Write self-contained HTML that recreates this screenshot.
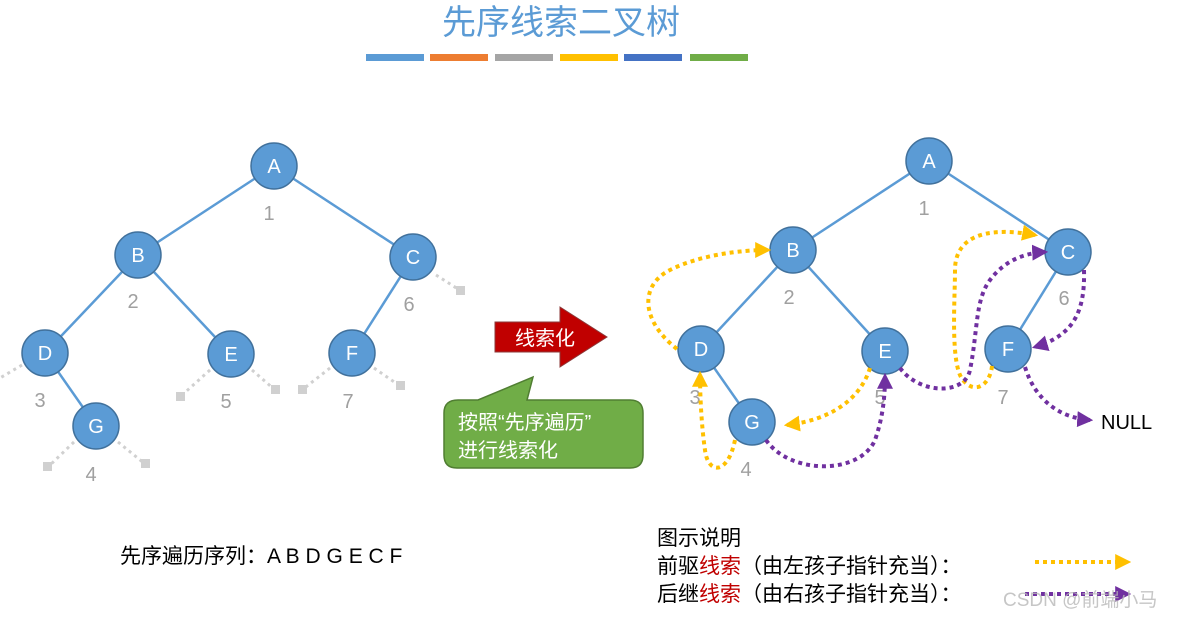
<!DOCTYPE html>
<html><head><meta charset="utf-8"><style>
html,body{margin:0;padding:0;background:#fff;}
svg{display:block;}
text{font-family:"Liberation Sans","Noto Sans CJK SC",sans-serif;}
</style></head><body>
<svg width="1179" height="617" viewBox="0 0 1179 617" xmlns="http://www.w3.org/2000/svg">
<defs>
<marker id="ay" viewBox="0 0 10 10" refX="8" refY="5" markerWidth="4" markerHeight="4" orient="auto"><path d="M0,0L10,5L0,10z" fill="#ffc000"/></marker>
<marker id="ap" viewBox="0 0 10 10" refX="8" refY="5" markerWidth="4" markerHeight="4" orient="auto"><path d="M0,0L10,5L0,10z" fill="#7030a0"/></marker>
</defs>
<text x="561" y="34" font-size="34" fill="#5b9bd5" text-anchor="middle">先序线索二叉树</text>
<rect x="366" y="54" width="58" height="7" fill="#5b9bd5"/>
<rect x="430" y="54" width="58" height="7" fill="#ed7d31"/>
<rect x="495" y="54" width="58" height="7" fill="#a5a5a5"/>
<rect x="560" y="54" width="58" height="7" fill="#ffc000"/>
<rect x="624" y="54" width="58" height="7" fill="#4472c4"/>
<rect x="690" y="54" width="58" height="7" fill="#70ad47"/>

<!-- left tree -->
<g stroke="#d0d0d0" stroke-width="3" stroke-dasharray="3,4" fill="none">
<line x1="436" y1="275" x2="461" y2="291"/>
<line x1="22" y1="365" x2="0" y2="378"/>
<line x1="210" y1="370" x2="181" y2="396"/>
<line x1="252" y1="370" x2="275" y2="390"/>
<line x1="330" y1="368" x2="302" y2="390"/>
<line x1="374" y1="368" x2="400" y2="386"/>
<line x1="74" y1="442" x2="48" y2="467"/>
<line x1="118" y1="442" x2="145" y2="464"/>
</g>
<g fill="#d0d0d0"><rect x="456" y="286" width="9" height="9"/><rect x="176" y="392" width="9" height="9"/><rect x="271" y="385" width="9" height="9"/><rect x="298" y="385" width="9" height="9"/><rect x="396" y="381" width="9" height="9"/><rect x="43" y="462" width="9" height="9"/><rect x="141" y="459" width="9" height="9"/></g>
<g stroke="#5b9bd5" stroke-width="2.5">
<line x1="274" y1="166" x2="138" y2="255"/><line x1="274" y1="166" x2="413" y2="257"/>
<line x1="138" y1="255" x2="45" y2="353"/><line x1="138" y1="255" x2="231" y2="354"/>
<line x1="413" y1="257" x2="352" y2="353"/><line x1="45" y1="353" x2="96" y2="426"/>
</g>
<g fill="#5b9bd5" stroke="#41719c" stroke-width="1.5">
<circle cx="274" cy="166" r="23"/><circle cx="138" cy="255" r="23"/><circle cx="413" cy="257" r="23"/>
<circle cx="45" cy="353" r="23"/><circle cx="231" cy="354" r="23"/><circle cx="352" cy="353" r="23"/><circle cx="96" cy="426" r="23"/>
</g>
<g fill="#fff" font-size="20" text-anchor="middle">
<text x="274" y="173">A</text><text x="138" y="262">B</text><text x="413" y="264">C</text>
<text x="45" y="360">D</text><text x="231" y="361">E</text><text x="352" y="360">F</text><text x="96" y="433">G</text>
</g>
<g fill="#a0a0a0" font-size="20" text-anchor="middle">
<text x="269" y="220">1</text><text x="133" y="308">2</text><text x="409" y="311">6</text>
<text x="40" y="407">3</text><text x="226" y="408">5</text><text x="348" y="408">7</text><text x="91" y="481">4</text>
</g>

<!-- red arrow -->
<path d="M495,322 L560,322 L560,307 L607,337 L560,367 L560,352 L495,352 Z" fill="#c00000" stroke="#8b3a3a" stroke-width="1"/>
<text x="545" y="345" fill="#fff" font-size="20" text-anchor="middle">线索化</text>
<!-- callout -->
<path d="M458,400 L478,400 L533,377 L527,400 L630,400 Q643,400 643,413 L643,455 Q643,468 630,468 L457,468 Q444,468 444,455 L444,413 Q444,400 458,400 Z" fill="#70ad47" stroke="#507e32" stroke-width="1.5"/>
<text x="458" y="429" fill="#fff" font-size="20">按照“先序遍历”</text>
<text x="458" y="457" fill="#fff" font-size="20">进行线索化</text>

<!-- right tree -->
<g stroke="#5b9bd5" stroke-width="2.5">
<line x1="929" y1="161" x2="793" y2="250"/><line x1="929" y1="161" x2="1068" y2="252"/>
<line x1="793" y1="250" x2="701" y2="349"/><line x1="793" y1="250" x2="885" y2="351"/>
<line x1="1068" y1="252" x2="1008" y2="349"/><line x1="701" y1="349" x2="752" y2="422"/>
</g>
<g fill="#5b9bd5" stroke="#41719c" stroke-width="1.5">
<circle cx="929" cy="161" r="23"/><circle cx="793" cy="250" r="23"/><circle cx="1068" cy="252" r="23"/>
<circle cx="701" cy="349" r="23"/><circle cx="885" cy="351" r="23"/><circle cx="1008" cy="349" r="23"/><circle cx="752" cy="422" r="23"/>
</g>
<g fill="#fff" font-size="20" text-anchor="middle">
<text x="929" y="168">A</text><text x="793" y="257">B</text><text x="1068" y="259">C</text>
<text x="701" y="356">D</text><text x="885" y="358">E</text><text x="1008" y="356">F</text><text x="752" y="429">G</text>
</g>
<g fill="#a0a0a0" font-size="20" text-anchor="middle">
<text x="924" y="215">1</text><text x="789" y="304">2</text><text x="1064" y="305">6</text>
<text x="695" y="404">3</text><text x="880" y="404">5</text><text x="1003" y="404">7</text><text x="746" y="476">4</text>
</g>
<text x="1101" y="429" font-size="20" fill="#000">NULL</text>

<g fill="none" stroke-width="4" stroke-dasharray="4,4">
<path d="M677,349 C640,320 640,285 670,270 C700,255 740,250 768,250" stroke="#ffc000" marker-end="url(#ay)"/>
<path d="M992,366 C990,385 975,395 963,380 C950,365 955,300 955,270 C955,240 980,225 1035,235" stroke="#ffc000" marker-end="url(#ay)"/>
<path d="M870,368 C860,400 830,420 787,425" stroke="#ffc000" marker-end="url(#ay)"/>
<path d="M735,440 C728,475 708,475 705,450 C702,430 700,400 700,374" stroke="#ffc000" marker-end="url(#ay)"/>
<path d="M900,368 C920,395 965,395 970,370 C978,330 975,300 990,280 C1005,260 1025,253 1045,252" stroke="#7030a0" marker-end="url(#ap)"/>
<path d="M1084,270 C1085,310 1075,335 1035,347" stroke="#7030a0" marker-end="url(#ap)"/>
<path d="M1025,367 C1035,400 1060,418 1090,420" stroke="#7030a0" marker-end="url(#ap)"/>
<path d="M766,440 C790,475 860,475 875,440 C882,420 885,400 885,376" stroke="#7030a0" marker-end="url(#ap)"/>
</g>

<text x="120" y="563" font-size="21" fill="#000">先序遍历序列：A B D G E C F</text>
<text x="657" y="545" font-size="21" fill="#000">图示说明</text>
<text x="657" y="573" font-size="21" fill="#000">前驱<tspan fill="#c00000">线索</tspan>（由左孩子指针充当）：</text>
<text x="657" y="601" font-size="21" fill="#000">后继<tspan fill="#c00000">线索</tspan>（由右孩子指针充当）：</text>
<line x1="1035" y1="562" x2="1128" y2="562" stroke="#ffc000" stroke-width="4" stroke-dasharray="4,4" marker-end="url(#ay)"/>
<line x1="1025" y1="594" x2="1128" y2="594" stroke="#7030a0" stroke-width="4" stroke-dasharray="4,4" marker-end="url(#ap)"/>
<text x="1003" y="606" font-size="19" fill="#b8b8b8" fill-opacity="0.8">CSDN @前端小马</text>
</svg>
</body></html>
